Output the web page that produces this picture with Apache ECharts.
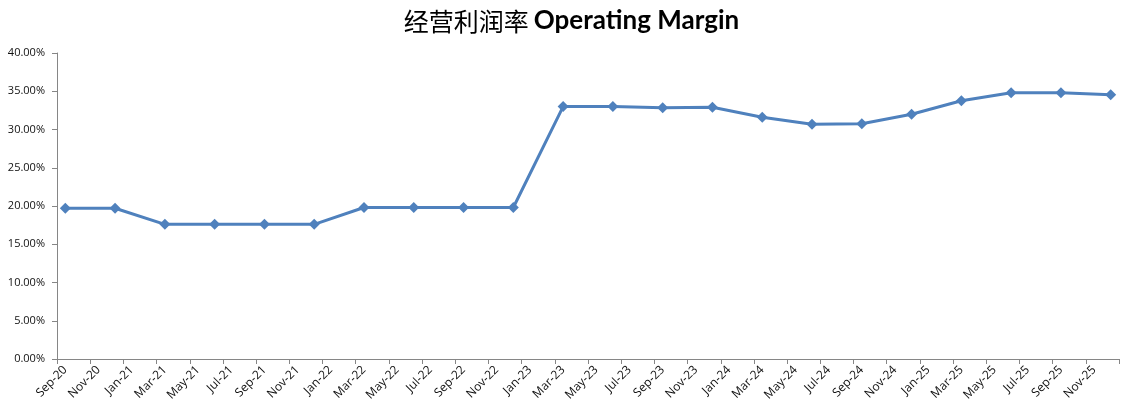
<!DOCTYPE html>
<html>
<head>
<meta charset="utf-8">
<script src="https://cdn.jsdelivr.net/npm/echarts@6/dist/echarts.min.js"></script>
<style>html,body{margin:0;padding:0;background:#fff;}#c{width:1143px;height:417px;}</style>
</head>
<body>
<div id="c"></div>
<script>
// monthly category axis (Sep-20 .. Dec-25)
var months = [
 'Sep-20','Oct-20','Nov-20','Dec-20',
 'Jan-21','Feb-21','Mar-21','Apr-21','May-21','Jun-21','Jul-21','Aug-21','Sep-21','Oct-21','Nov-21','Dec-21',
 'Jan-22','Feb-22','Mar-22','Apr-22','May-22','Jun-22','Jul-22','Aug-22','Sep-22','Oct-22','Nov-22','Dec-22',
 'Jan-23','Feb-23','Mar-23','Apr-23','May-23','Jun-23','Jul-23','Aug-23','Sep-23','Oct-23','Nov-23','Dec-23',
 'Jan-24','Feb-24','Mar-24','Apr-24','May-24','Jun-24','Jul-24','Aug-24','Sep-24','Oct-24','Nov-24','Dec-24',
 'Jan-25','Feb-25','Mar-25','Apr-25','May-25','Jun-25','Jul-25','Aug-25','Sep-25','Oct-25','Nov-25','Dec-25'
];
// quarterly observation dates
var dates = [
 'Sep-20','Dec-20','Mar-21','Jun-21','Sep-21','Dec-21','Mar-22','Jun-22','Sep-22','Dec-22',
 'Mar-23','Jun-23','Sep-23','Dec-23','Mar-24','Jun-24','Sep-24','Dec-24','Mar-25','Jun-25','Sep-25','Dec-25'
];
// operating margin, %
var margin = [
 19.7, 19.7, 17.6, 17.6, 17.6, 17.6, 19.8, 19.8, 19.8, 19.8,
 33.0, 33.0, 32.85, 32.9, 31.6, 30.7, 30.75, 32.0, 33.75, 34.8, 34.8, 34.55
];
var yTicks = [0, 5, 10, 15, 20, 25, 30, 35, 40];

var chart = echarts.init(document.getElementById('c'));
var seriesData = dates.map(function (d, i) { return [d, margin[i]]; });

chart.setOption({
  animation: false,
  backgroundColor: '#ffffff',
  title: {
    text: '{cn|经营利润率} {en|Operating Margin}',
    left: 'center',
    top: 3,
    textStyle: {
      rich: {
        cn: { fontFamily: 'Noto Sans CJK SC', fontSize: 25, color: '#000', fontWeight: 'normal' },
        en: { fontFamily: 'Lato', fontSize: 26, color: '#000', fontWeight: 'bold' }
      }
    }
  },
  grid: { left: 57, right: 24, top: 53, bottom: 58 },
  xAxis: {
    type: 'category',
    data: months,
    boundaryGap: true,
    axisLine: { lineStyle: { color: '#868686', width: 1 } },
    axisTick: { show: true, interval: 1, length: 5, lineStyle: { color: '#868686' } },
    axisLabel: {
      interval: 1,
      rotate: 45,
      margin: 9,
      color: '#111',
      fontFamily: 'Open Sans',
      fontSize: 12
    },
    splitLine: { show: false }
  },
  yAxis: {
    type: 'value',
    min: yTicks[0],
    max: yTicks[yTicks.length - 1],
    interval: 5,
    axisLine: { show: true, lineStyle: { color: '#868686', width: 1 } },
    axisTick: { show: true, length: 5, lineStyle: { color: '#868686' } },
    axisLabel: {
      color: '#111',
      fontFamily: 'Open Sans',
      fontSize: 11,
      margin: 12,
      formatter: function (v) { return v.toFixed(2) + '%'; }
    },
    splitLine: { show: false }
  },
  series: [{
    type: 'line',
    data: seriesData,
    symbol: 'diamond',
    symbolSize: 11,
    lineStyle: { color: '#4F81BD', width: 3 },
    itemStyle: { color: '#4F81BD' }
  }]
});
</script>
</body>
</html>
